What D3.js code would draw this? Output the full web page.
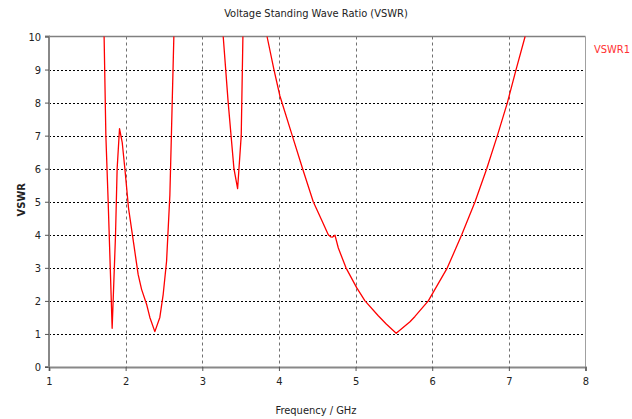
<!DOCTYPE html>
<html>
<head>
<meta charset="utf-8">
<script src="https://cdn.jsdelivr.net/npm/d3@7"></script>
<style>
  html, body { margin: 0; padding: 0; background: #fff; }
  svg { display: block; }
  text { font-family: "DejaVu Sans Condensed", "DejaVu Sans", sans-serif; }
</style>
</head>
<body>
<svg id="chart" width="632" height="419"></svg>
<script>
// ---- data ----
const chartTitle = "Voltage Standing Wave Ratio (VSWR)";
const xLabel = "Frequency / GHz";
const yLabel = "VSWR";
const seriesName = "VSWR1";
const xTicks = [1, 2, 3, 4, 5, 6, 7, 8];
const yTicks = [0, 1, 2, 3, 4, 5, 6, 7, 8, 9, 10];
// frequency (GHz)
const freq = [
  1.69, 1.719, 1.742, 1.772, 1.798, 1.824, 1.868, 1.889, 1.920, 1.955, 1.990, 2.038, 2.107,
  2.163, 2.208, 2.273, 2.316, 2.381, 2.446, 2.49, 2.534, 2.577, 2.599, 2.629, 2.66,
  3.0,
  3.25, 3.273, 3.338, 3.413, 3.461, 3.508, 3.530, 3.56,
  3.70,
  3.82, 3.845, 3.935, 4.013, 4.174, 4.309, 4.448, 4.557, 4.644, 4.675, 4.700, 4.731, 4.775,
  4.875, 5.014, 5.123, 5.296, 5.40, 5.530, 5.71, 5.775, 5.949, 6.197, 6.385, 6.559,
  6.711, 6.850, 6.981, 7.094, 7.212, 7.25
];
// VSWR values (values above 10 are clipped by the plot frame)
const vswr = [
  10.8, 10.0, 7.0, 5.0, 3.1, 1.17, 4.0, 6.0, 7.21, 6.8, 6.0, 4.8, 3.7,
  2.8, 2.35, 1.9, 1.5, 1.07, 1.5, 2.2, 3.2, 5.2, 7.2, 10.0, 12.0,
  30.0,
  10.4, 10.0, 8.0, 6.0, 5.40, 7.0, 10.0, 11.5,
  20.0,
  10.3, 10.0, 9.0, 8.2, 7.0, 6.0, 5.0, 4.45, 4.0, 3.94, 3.93, 3.99, 3.6,
  3.0, 2.4, 2.0, 1.55, 1.3, 1.02, 1.37, 1.53, 2.0, 3.0, 4.0, 5.0,
  6.0, 7.0, 8.0, 9.0, 10.0, 10.5
];

// ---- layout ----
const svg = d3.select("#chart");
const L = 49, R = 585.5, T = 36.5, B = 367;

const x = d3.scaleLinear().domain([1, 8]).range([L, R]);
const y = d3.scaleLinear().domain([0, 10]).range([B, T]);

// gridlines
const grid = svg.append("g");
grid.selectAll("line.hg").data(yTicks.filter(d => d > 0 && d < 10)).join("line")
  .attr("x1", L).attr("x2", R)
  .attr("y1", d => Math.round(y(d)) + 0.5).attr("y2", d => Math.round(y(d)) + 0.5)
  .attr("stroke", "#000").attr("stroke-width", 1).attr("stroke-dasharray", "2,2");
grid.selectAll("line.vg").data(xTicks.filter(d => d > 1 && d < 8)).join("line")
  .attr("x1", d => Math.round(x(d)) + 0.5).attr("x2", d => Math.round(x(d)) + 0.5)
  .attr("y1", T).attr("y2", B)
  .attr("stroke", "#707070").attr("stroke-width", 1).attr("stroke-dasharray", "3,3");

// top & right frame
svg.append("line").attr("x1", L).attr("x2", R).attr("y1", T).attr("y2", T)
  .attr("stroke", "#808080").attr("stroke-width", 1.5);
svg.append("line").attr("x1", R).attr("x2", R).attr("y1", T).attr("y2", B)
  .attr("stroke", "#a0a0a0").attr("stroke-width", 1);

// curve
svg.append("clipPath").attr("id", "plotclip").append("rect")
  .attr("x", L).attr("y", T).attr("width", R - L).attr("height", B - T);
const pts = freq.map((f, i) => [f, vswr[i]]);
svg.append("path").datum(pts)
  .attr("clip-path", "url(#plotclip)")
  .attr("fill", "none").attr("stroke", "#ff0000").attr("stroke-width", 1.3)
  .attr("stroke-linejoin", "round")
  .attr("d", d3.line().x(d => x(d[0])).y(d => y(d[1])));

// axes
const yAxis = svg.append("g").attr("transform", `translate(${L},0)`)
  .call(d3.axisLeft(y).tickValues(yTicks).tickFormat(d3.format("d")).tickSize(4).tickPadding(4));
const xAxis = svg.append("g").attr("transform", `translate(0,${B})`)
  .call(d3.axisBottom(x).tickValues(xTicks).tickFormat(d3.format("d")).tickSize(4).tickPadding(6));
[yAxis, xAxis].forEach(a => {
  a.select(".domain").attr("stroke", "#888").attr("stroke-width", 2);
  a.selectAll(".tick line").attr("stroke", "#555");
  a.selectAll(".tick text").attr("fill", "#222").attr("font-size", 11)
    .attr("font-family", "'DejaVu Sans Condensed', sans-serif");
});
yAxis.select(".domain").attr("d", `M-4,${B}H0V${T}H-4`);

// titles
svg.append("text").attr("x", 316).attr("y", 17).attr("text-anchor", "middle")
  .attr("font-size", 11).attr("fill", "#222").text(chartTitle);
svg.append("text").attr("x", 316).attr("y", 414).attr("text-anchor", "middle")
  .attr("font-size", 11).attr("fill", "#222").text(xLabel);
svg.append("text").attr("transform", `translate(25,${(T + B) / 2 - 2}) rotate(-90)`)
  .attr("text-anchor", "middle").attr("font-size", 11).attr("font-weight", "bold")
  .attr("font-family", "'Liberation Sans', Arial, sans-serif")
  .attr("fill", "#222").text(yLabel);

// legend
svg.append("text").attr("x", 594).attr("y", 53).attr("font-size", 11)
  .attr("fill", "#ff3030").text(seriesName);
</script>
</body>
</html>
